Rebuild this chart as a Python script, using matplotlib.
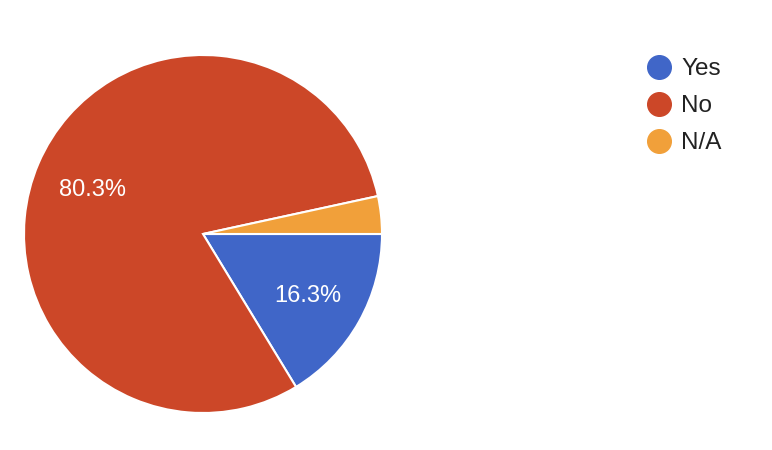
import matplotlib.pyplot as plt
import matplotlib.transforms as mtransforms
from matplotlib.lines import Line2D

# donnees du camembert
labels = ['Yes', 'No', 'N/A']
values = [16.3, 80.3, 3.4]
colors = ['#4066c8', '#cc4728', '#f1a03a']


def pct_label(p):
    # pas d'etiquette pour les petites parts
    return f'{p:.1f}%' if p > 5 else ''


def main():
    plt.rcParams['font.family'] = ['Liberation Sans', 'DejaVu Sans']
    fig = plt.figure(figsize=(7.72, 4.5), dpi=100)
    # axe carre: centre (203, 234) px, rayon 179 px
    ax = fig.add_axes([24 / 772, 37 / 450, 358 / 772, 358 / 450])
    wedges, texts, autotexts = ax.pie(
        values, colors=colors, startangle=0, counterclock=False,
        autopct=pct_label, pctdistance=0.67,
        wedgeprops=dict(edgecolor='white', linewidth=1.5),
        textprops=dict(color='white', fontsize=17))
    # petit decalage vertical des pourcentages
    for t in autotexts:
        t.set_transform(mtransforms.offset_copy(ax.transData, fig=fig,
                                                x=0, y=-3, units='dots'))
    ax.set_xlim(-1, 1)
    ax.set_ylim(-1, 1)
    ax.set_aspect('equal')

    # legende a droite
    handles = [Line2D([], [], marker='o', linestyle='', markersize=17,
                      markerfacecolor=c, markeredgecolor=c) for c in colors]
    fig.legend(handles, labels, loc='upper left',
               bbox_to_anchor=(647 / 772, 1 - 58 / 450), frameon=False,
               fontsize=17.5, labelspacing=0.62, handlelength=1.0,
               handletextpad=0.4, borderpad=0, borderaxespad=0,
               labelcolor='#222222')
    fig.savefig('out.png', dpi=100)


if __name__ == "__main__":
    main()
